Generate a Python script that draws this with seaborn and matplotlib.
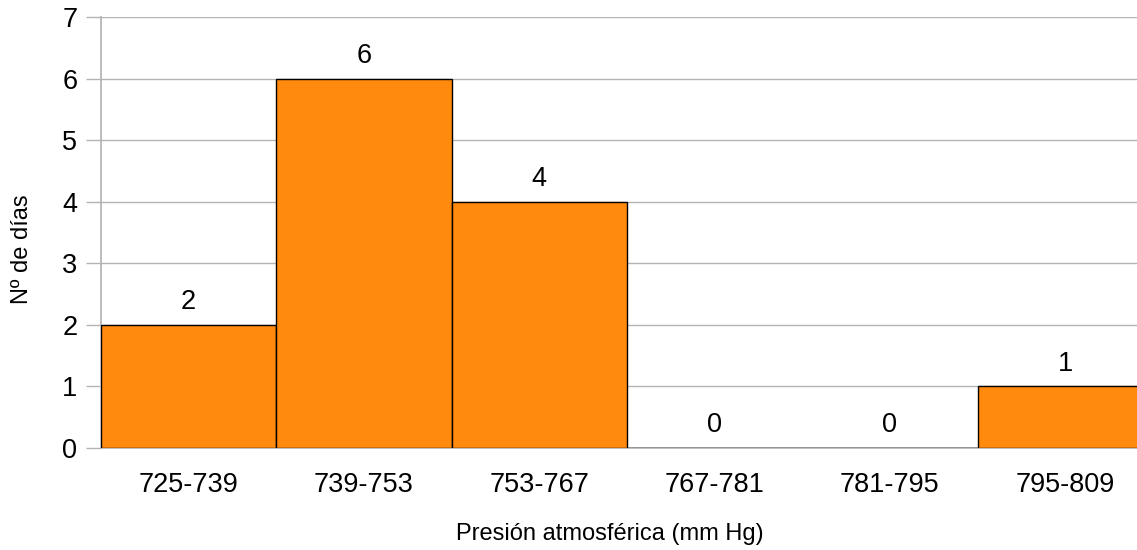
import numpy as np
import pandas as pd
import matplotlib
matplotlib.use('Agg')
import matplotlib.pyplot as plt
import seaborn as sns

# ============================================================================
# DATA
# ============================================================================
intervalos = ["725-739", "739-753", "753-767", "767-781", "781-795", "795-809"]
dias = [2, 6, 4, 0, 0, 1]

BAR_COLOR = "#ff8a0e"
GRID_COLOR = "#b3b3b3"

sns.set_theme(style="white")
plt.rcParams['font.family'] = ['Liberation Sans', 'DejaVu Sans']
plt.rcParams['text.color'] = 'black'
plt.rcParams['xtick.color'] = 'black'
plt.rcParams['ytick.color'] = 'black'
plt.rcParams['axes.labelcolor'] = 'black'

df = pd.DataFrame({"intervalo": intervalos, "dias": dias})

# last bar is clipped by the right edge of the image in the original
bar_px = 175.3
ax_w = 6 * bar_px
fig = plt.figure(figsize=(11.37, 5.5), dpi=100)
ax = fig.add_axes([101 / 1137, 102 / 550, ax_w / 1137, 431 / 550])

sns.barplot(data=df, x="intervalo", y="dias", color=BAR_COLOR, width=1.0,
            edgecolor="black", linewidth=1.0, saturation=1, ax=ax, zorder=3)

for c in ax.containers:
    ax.bar_label(c, labels=[str(v) for v in dias], padding=7, fontsize=19.5, color="black")

ax.set_xlim(-0.5, len(intervalos) - 0.5)
ax.set_ylim(0, 7)
ax.set_yticks(range(0, 8))
ax.yaxis.grid(True, color=GRID_COLOR, linewidth=1.0, zorder=0)
ax.set_axisbelow(True)

# ticks at category boundaries
ax.set_xticks(np.arange(-0.5, len(intervalos)), minor=True)
ax.tick_params(axis="x", which="major", length=0, pad=17, labelsize=19.5, labelcolor="black")
ax.tick_params(axis="x", which="minor", length=10, color=GRID_COLOR, width=1.0)
ax.tick_params(axis="y", which="major", length=11, color=GRID_COLOR, width=1.0,
               pad=6, labelsize=19.5, left=True, labelcolor="black")

for s in ["top", "right"]:
    ax.spines[s].set_visible(False)
ax.spines["left"].set_color(GRID_COLOR)
ax.spines["bottom"].set_color(GRID_COLOR)

ax.set_xlabel("Presión atmosférica (mm Hg)", fontsize=17, color="black", va="center")
ax.set_ylabel("Nº de días", fontsize=17, color="black", va="center")
# labels are centred on the visible part of the chart
ax.xaxis.set_label_coords((610 - 101) / ax_w, -(534 - 448) / 431)
ax.yaxis.set_label_coords((22 - 101) / ax_w, 1 - (249 - 17) / 431)

fig.savefig("out.png", dpi=100)
